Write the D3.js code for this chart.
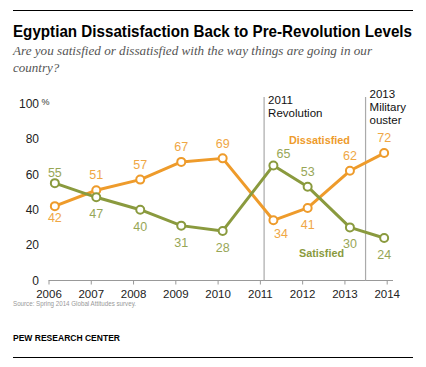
<!DOCTYPE html>
<html><head><meta charset="utf-8">
<script src="https://cdn.jsdelivr.net/npm/d3@7"></script>
<style>body{margin:0;background:#fff}svg{display:block}</style>
</head><body>
<svg id="c" width="426" height="367"></svg>
<script>
const years = [2006, 2007, 2008, 2009, 2010, 2011, 2012, 2013, 2014];
// approximate survey timing (fractional year) as placed in the original
const surveyDates = [2006.15, 2007.13, 2008.17, 2009.14, 2010.12, 2011.32, 2012.13, 2013.13, 2013.94];
const dissatisfied = [42, 51, 57, 67, 69, 34, 41, 62, 72];
const satisfied = [55, 47, 40, 31, 28, 65, 53, 30, 24];
const dissLabelPos = ["below","above","above","above","above","below","below","above","above"];
const satLabelPos = ["above","below","below","below","below","above","above","below","below"];
const yTicks = [0, 20, 40, 60, 80, 100];
const events = [{x: 2011.1, lines: ["2011", "Revolution"]}, {x: 2013.5, lines: ["2013", "Military", "ouster"]}];

const ORANGE = "#EE9B2B", GREEN = "#8A9A3E";
const svg = d3.select("#c");
const x = d3.scaleLinear().domain([2006, 2014]).range([48.5, 386.7]);
const y = d3.scaleLinear().domain([0, 100]).range([280.5, 103.5]);
const sans = "'Liberation Sans', Arial, sans-serif";
const narrow = "'Liberation Sans Narrow', 'Arial Narrow', 'Liberation Sans', Arial, sans-serif";

// rules
svg.append("line").attr("x1",13).attr("x2",413).attr("y1",10.5).attr("y2",10.5).attr("stroke","#000").attr("stroke-width",1);
svg.append("line").attr("x1",13).attr("x2",413).attr("y1",357.5).attr("y2",357.5).attr("stroke","#000").attr("stroke-width",1);

svg.append("g").attr("transform","translate(13,36.5) scale(1,1.13)")
  .append("text").attr("x",0).attr("y",0).attr("font-family",narrow).attr("font-weight","bold")
  .attr("font-size",15).attr("fill","#000").attr("textLength",399).attr("lengthAdjust","spacingAndGlyphs")
  .text("Egyptian Dissatisfaction Back to Pre-Revolution Levels");
const sub = svg.append("g").attr("font-family","'Liberation Serif', 'Times New Roman', serif").attr("font-style","italic").attr("font-size",13).attr("fill","#555");
sub.append("text").attr("x",13).attr("y",55).attr("textLength",359).attr("lengthAdjust","spacingAndGlyphs")
  .text("Are you satisfied or dissatisfied with the way things are going in our");
sub.append("text").attr("x",13).attr("y",72).text("country?");

// y axis labels
const yl = svg.append("g").attr("font-family",sans).attr("font-size",12).attr("fill","#222");
yl.selectAll("text").data(yTicks).join("text").attr("x",39).attr("y",d=>y(d)+4.3).attr("text-anchor","end").text(d=>d);
yl.append("text").attr("x",41.5).attr("y",y(100)+1.5).attr("font-size",9).attr("fill","#333").text("%");

// x axis
const xAxis = d3.axisBottom(x).tickValues(years).tickFormat(d3.format("d")).tickSize(4).tickPadding(5);
const gx = svg.append("g").attr("transform",`translate(0,${y(0)})`).call(xAxis);
gx.select(".domain").attr("stroke","#999").attr("d",`M${x(2006)},0H393`);
gx.selectAll(".tick line").attr("stroke","#999");
gx.selectAll(".tick text").attr("font-family",sans).attr("font-size",11.5).attr("fill","#222");

// event lines
events.forEach(e=>{
  svg.append("line").attr("x1",x(e.x)).attr("x2",x(e.x)).attr("y1",97).attr("y2",y(0)).attr("stroke","#aaa").attr("stroke-width",1.2);
  const t = svg.append("text").attr("font-family",sans).attr("font-size",11.5).attr("fill","#111");
  const y0 = e.lines.length === 2 ? 103.5 : 97.5;
  e.lines.forEach((l,i)=>t.append("tspan").attr("x",x(e.x)+4).attr("y",y0+i*13).text(l));
});

function series(vals, color, pos, nudges) {
  const data = years.map((yr,i)=>({yr, t: surveyDates[i], v: vals[i], p: pos[i], n: nudges[i] || [0,0]}));
  svg.append("path").datum(data).attr("fill","none").attr("stroke",color).attr("stroke-width",3)
    .attr("stroke-linejoin","round").attr("d", d3.line().x(d=>x(d.t)).y(d=>y(d.v)));
  svg.append("g").selectAll("circle").data(data).join("circle").attr("cx",d=>x(d.t)).attr("cy",d=>y(d.v)).attr("r",4)
    .attr("fill","#fff").attr("stroke",color).attr("stroke-width",2);
  svg.append("g").selectAll("text").data(data).join("text")
    .attr("x",d=>x(d.t)+d.n[0]).attr("y",d=>(d.p==="above"?y(d.v)-10.8:y(d.v)+20.9)+d.n[1])
    .attr("text-anchor","middle").attr("font-family",sans).attr("font-size",12.5).attr("fill",color).attr("opacity",0.88)
    .text(d=>d.v);
}
series(dissatisfied, ORANGE, dissLabelPos, {0:[0,-5.5], 5:[7.5,-3.5]});
series(satisfied, GREEN, satLabelPos, {0:[0,5], 5:[10,3.3]});

svg.append("text").attr("x",289).attr("y",143.5).attr("font-family",sans).attr("font-weight","bold").attr("font-size",11.5)
  .attr("textLength",61).attr("lengthAdjust","spacingAndGlyphs").attr("fill",ORANGE).text("Dissatisfied");
svg.append("text").attr("x",299).attr("y",256.5).attr("font-family",sans).attr("font-weight","bold").attr("font-size",11.5)
  .attr("textLength",45).attr("lengthAdjust","spacingAndGlyphs").attr("fill",GREEN).text("Satisfied");

svg.append("text").attr("x",13).attr("y",306).attr("font-family",narrow).attr("font-size",7.5).attr("fill","#999")
  .attr("textLength",123).attr("lengthAdjust","spacingAndGlyphs").text("Source: Spring 2014 Global Attitudes survey.");
svg.append("text").attr("x",13).attr("y",340.7).attr("font-family",narrow).attr("font-size",9).attr("font-weight","bold").attr("fill","#000")
  .attr("textLength",107).attr("lengthAdjust","spacingAndGlyphs").text("PEW RESEARCH CENTER");
</script>
</body></html>
